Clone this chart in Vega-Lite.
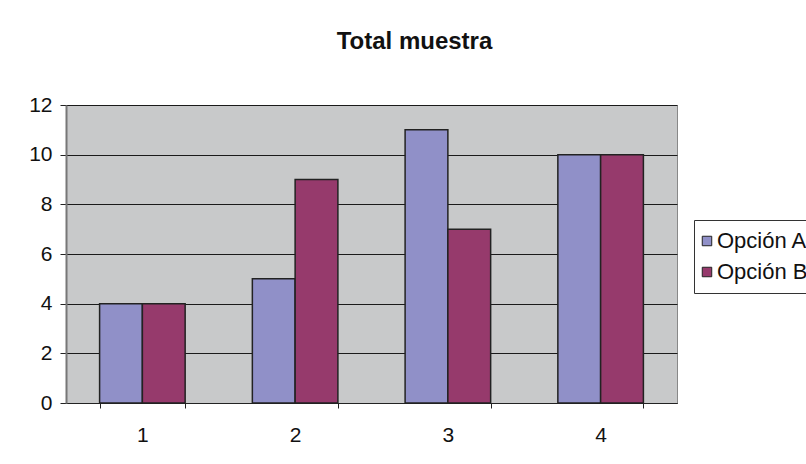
{
  "$schema": "https://vega.github.io/schema/vega-lite/v6.json",
  "autosize": {"type": "none"},
  "width": 611,
  "height": 298,
  "padding": {"left": 66, "top": 105, "right": 129, "bottom": 61},
  "background": "#ffffff",
  "title": {
    "text": "Total muestra",
    "font": "Liberation Sans",
    "fontSize": 24,
    "fontWeight": "bold",
    "color": "#111111",
    "anchor": "middle",
    "baseline": "alphabetic",
    "offset": 21,
    "dx": 43
  },
  "data": {
    "values": [
      {"grupo": "1", "serie": "Opción A", "valor": 4},
      {"grupo": "1", "serie": "Opción B", "valor": 4},
      {"grupo": "2", "serie": "Opción A", "valor": 5},
      {"grupo": "2", "serie": "Opción B", "valor": 9},
      {"grupo": "3", "serie": "Opción A", "valor": 11},
      {"grupo": "3", "serie": "Opción B", "valor": 7},
      {"grupo": "4", "serie": "Opción A", "valor": 10},
      {"grupo": "4", "serie": "Opción B", "valor": 10}
    ]
  },
  "mark": {"type": "bar", "stroke": "#222222", "strokeWidth": 1.5},
  "encoding": {
    "x": {
      "field": "grupo",
      "type": "nominal",
      "scale": {"paddingInner": 0.44, "paddingOuter": 0.22},
      "axis": {
        "title": null,
        "labelAngle": 0,
        "tickBand": "extent",
        "tickSize": 5,
        "tickColor": "#222222",
        "domainColor": "#222222",
        "labelFont": "Liberation Sans",
        "labelFontSize": 21,
        "labelColor": "#111111",
        "labelPadding": 16
      }
    },
    "xOffset": {"field": "serie", "type": "nominal", "sort": ["Opción A", "Opción B"], "scale": {"paddingInner": 0}},
    "y": {
      "field": "valor",
      "type": "quantitative",
      "scale": {"domain": [0, 12], "nice": false},
      "axis": {
        "title": null,
        "values": [0, 2, 4, 6, 8, 10, 12],
        "grid": true,
        "gridColor": "#1a1a1a",
        "gridWidth": 1,
        "tickSize": 6,
        "tickColor": "#222222",
        "domainColor": "#777777",
        "domainWidth": 2,
        "labelFont": "Liberation Sans",
        "labelFontSize": 21,
        "labelColor": "#111111",
        "labelPadding": 8
      }
    },
    "color": {
      "field": "serie",
      "type": "nominal",
      "scale": {"domain": ["Opción A", "Opción B"], "range": ["#9090C8", "#963A6C"]},
      "legend": {
        "title": null,
        "orient": "none",
        "legendX": 628,
        "legendY": 115,
        "strokeColor": "#333333",
        "fillColor": "#ffffff",
        "padding": 10,
        "symbolType": "square",
        "symbolSize": 90,
        "symbolOffset": -8,
        "symbolStrokeColor": "#222222",
        "symbolStrokeWidth": 1,
        "symbolOpacity": 1,
        "labelFont": "Liberation Sans",
        "labelFontSize": 22,
        "labelColor": "#111111",
        "labelOffset": -1,
        "rowPadding": 9
      }
    }
  },
  "config": {
    "view": {"fill": "#C8C9CA", "stroke": "#888888", "strokeWidth": 1}
  }
}
